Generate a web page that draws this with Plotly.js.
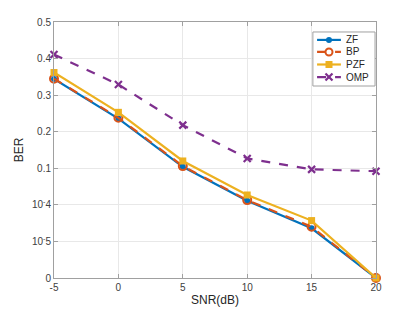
<!DOCTYPE html>
<html><head><meta charset="utf-8">
<script src="https://cdn.plot.ly/plotly-3.0.1.min.js"></script>
<style>html,body{margin:0;padding:0;background:#fff;}#chart{width:415px;height:312px;}</style>
</head><body><div id="chart"></div>
<script>
// SNR values (dB)
const snr = [-5, 0, 5, 10, 15, 20];
// BER values on the chart's display scale (ticks equally spaced: 0, 10^-5, 10^-4, 0.1 ... 0.5)
const berZF  = [0.344, 0.236, 0.104, 0.011, -0.064, -0.2];
const berBP  = [0.345, 0.238, 0.106, 0.013, -0.060, -0.2];
const berPZF = [0.362, 0.253, 0.120, 0.027, -0.043, -0.2];
const berOMP = [0.411, 0.329, 0.218, 0.127, 0.097, 0.092];
const yTickVals = [-0.2, -0.1, 0, 0.1, 0.2, 0.3, 0.4, 0.5];
const yTickText = ['0', '10<sup>-</sup>5', '10<sup>-</sup>4', '0.1', '0.2', '0.3', '0.4', '0.5'];
const xTickVals = [-5, 0, 5, 10, 15, 20];
const seriesNames = ['ZF', 'BP', 'PZF', 'OMP'];
const seriesColors = ['#0072BD', '#D95319', '#EDB120', '#7E2F8E'];
const seriesDash = ['solid', 'dash', 'solid', 'dash'];
const seriesMarker = ['circle', 'circle-open', 'square', 'x'];

const ys = [berZF, berBP, berPZF, berOMP];
const markerStyle = {
  'circle': c => ({symbol: 'circle', size: 6, color: c}),
  'circle-open': c => ({symbol: 'circle-open', size: 8, color: c, line: {width: 2}}),
  'square': c => ({symbol: 'square', size: 7, color: c}),
  'x': c => ({symbol: 'x-thin-open', size: 7, color: c, line: {width: 2.2, color: c}})
};
const traces = seriesNames.map((n, i) => ({
  x: snr, y: ys[i], name: n, mode: 'lines+markers', cliponaxis: false,
  line: {color: seriesColors[i], width: 2.2, dash: seriesDash[i]},
  marker: markerStyle[seriesMarker[i]](seriesColors[i])
}));

const font = 'Liberation Sans, Arial, sans-serif';
const axisCommon = {
  showline: true, linecolor: '#a0a0a0', linewidth: 1, mirror: 'ticks',
  ticks: 'inside', ticklen: 4, tickcolor: '#a0a0a0',
  showgrid: true, gridcolor: '#e8e8e8', gridwidth: 1, zeroline: false,
  tickfont: {family: font, size: 10, color: '#404040'}
};

// compact MATLAB-style legend (paper coordinates)
const lg = {x0: 0.804, x1: 0.997, y0: 0.75, y1: 0.961, lx0: 0.817, lx1: 0.891, mx: 0.854, tx: 0.90,
            rows: [0.930, 0.883, 0.834, 0.785]};
const shapes = [{type: 'rect', xref: 'paper', yref: 'paper', x0: lg.x0, x1: lg.x1, y0: lg.y0, y1: lg.y1,
                 fillcolor: '#fff', line: {color: '#a0a0a0', width: 1}, layer: 'above'}];
const annotations = [];
seriesNames.forEach((n, i) => {
  const c = seriesColors[i], yy = lg.rows[i];
  shapes.push({type: 'line', xref: 'paper', yref: 'paper', x0: lg.lx0, x1: lg.lx1, y0: yy, y1: yy,
               line: {color: c, width: 2.2, dash: seriesDash[i]}, layer: 'above'});
  const px = {xref: 'paper', yref: 'paper', xsizemode: 'pixel', ysizemode: 'pixel', xanchor: lg.mx, yanchor: yy, layer: 'above'};
  const m = seriesMarker[i];
  if (m === 'circle') shapes.push(Object.assign({type: 'circle', x0: -3, x1: 3, y0: -3, y1: 3, fillcolor: c, line: {color: c, width: 0}}, px));
  if (m === 'circle-open') shapes.push(Object.assign({type: 'circle', x0: -3.5, x1: 3.5, y0: -3.5, y1: 3.5, fillcolor: '#fff', line: {color: c, width: 2}}, px));
  if (m === 'square') shapes.push(Object.assign({type: 'rect', x0: -3.5, x1: 3.5, y0: -3.5, y1: 3.5, fillcolor: c, line: {color: c, width: 0}}, px));
  if (m === 'x') {
    shapes.push(Object.assign({type: 'line', x0: -3.5, x1: 3.5, y0: -3.5, y1: 3.5, line: {color: c, width: 2.2}}, px));
    shapes.push(Object.assign({type: 'line', x0: -3.5, x1: 3.5, y0: 3.5, y1: -3.5, line: {color: c, width: 2.2}}, px));
  }
  annotations.push({xref: 'paper', yref: 'paper', x: lg.tx, y: yy, xanchor: 'left', yanchor: 'middle',
                    text: n, showarrow: false, font: {family: font, size: 10, color: '#262626'}});
});

const layout = {
  width: 415, height: 312,
  margin: {l: 54, r: 39, t: 22, b: 34},
  paper_bgcolor: '#fff', plot_bgcolor: '#fff',
  showlegend: false,
  xaxis: Object.assign({}, axisCommon, {
    range: [-5, 20], tickvals: xTickVals, ticktext: xTickVals.map(String),
    title: {text: 'SNR(dB)', standoff: 3, font: {family: font, size: 12, color: '#262626'}}
  }),
  yaxis: Object.assign({}, axisCommon, {
    range: [-0.2, 0.5], tickvals: yTickVals, ticktext: yTickText,
    title: {text: 'BER', standoff: 5, font: {family: font, size: 12, color: '#262626'}}
  }),
  shapes: shapes,
  annotations: annotations
};

Plotly.newPlot('chart', traces, layout, {displayModeBar: false, staticPlot: true});
</script></body></html>
